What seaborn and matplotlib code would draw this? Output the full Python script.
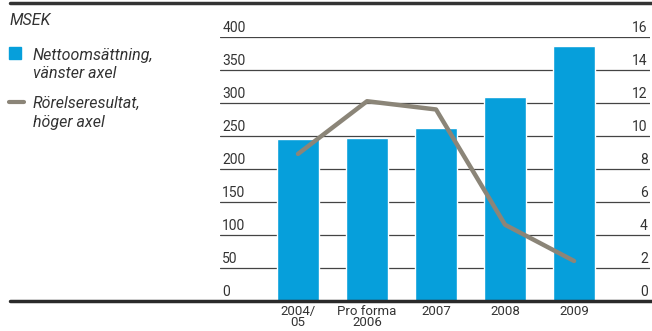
import matplotlib
matplotlib.use("Agg")
import matplotlib.pyplot as plt
import matplotlib.transforms as mtransforms
from matplotlib.lines import Line2D
from matplotlib.patches import Rectangle
import seaborn as sns
import pandas as pd
import numpy as np

categories = ["2004/\n05", "Pro forma\n2006", "2007", "2008", "2009"]
nettoomsattning = [245, 247, 262, 309, 386]
rorelseresultat = [8.9, 12.1, 11.6, 4.6, 2.4]
left_ticks = [0, 50, 100, 150, 200, 250, 300, 350, 400]
right_ticks = [0, 2, 4, 6, 8, 10, 12, 14, 16]

BLUE = "#069fdb"
GREY = "#8b8578"
FONT = ["Roboto", "DejaVu Sans"]

sns.set_theme(style="white")
plt.rcParams["font.family"] = FONT

df = pd.DataFrame({"cat": categories, "sales": nettoomsattning, "ebit": rorelseresultat})

W, H = 652, 331
fig = plt.figure(figsize=(W / 100, H / 100), dpi=100)
ax = fig.add_axes([220 / W, 1 - 300.5 / H, (650 - 220) / W, (300.5 - 37) / H])

sns.barplot(data=df, x="cat", y="sales", color=BLUE, saturation=1, width=0.61, ax=ax, zorder=2)
ax.set_ylim(0, 400)

ax2 = ax.twinx()
sns.lineplot(data=df, x="cat", y="ebit", color=GREY, linewidth=3.2, ax=ax2,
             solid_capstyle="round", zorder=3)
ax2.set_ylim(0, 16)
ax.set_zorder(1)
ax2.set_zorder(2)
ax2.patch.set_visible(False)
ax.set_xlim(-1.13, 5.10)

for a in (ax, ax2):
    for s in a.spines.values():
        s.set_visible(False)
    a.set_ylabel("")
    a.set_xlabel("")
    a.set_yticks([])
    a.tick_params(length=0)

# gridlines
for v in left_ticks[1:]:
    ax.axhline(v, color="#444444", lw=0.9, zorder=0)

# y tick labels sitting on gridlines
tl = mtransforms.blended_transform_factory(ax.transAxes, ax.transData)
off = mtransforms.offset_copy(tl, fig=fig, x=0, y=2, units="dots")
for v in left_ticks:
    ax.text(0.005, v, str(v), transform=off, ha="left", va="bottom", fontsize=10, color="#333333")
tr = mtransforms.blended_transform_factory(ax2.transAxes, ax2.transData)
offr = mtransforms.offset_copy(tr, fig=fig, x=0, y=2, units="dots")
for v in right_ticks:
    ax2.text(0.995, v, str(v), transform=offr, ha="right", va="bottom", fontsize=10, color="#333333")

ax.set_xticks(range(len(categories)))
ax.set_xticklabels(categories, fontsize=9.5, color="#333333", linespacing=0.82)
ax.tick_params(axis="x", pad=3, labelbottom=True)
ax2.tick_params(axis="x", labelbottom=False, labeltop=False)

# frame lines
fig.add_artist(Line2D([10 / W, 1], [1 - 3 / H, 1 - 3 / H], color="#333333", lw=2.5, transform=fig.transFigure))
fig.add_artist(Line2D([10 / W, 1], [1 - 300.5 / H, 1 - 300.5 / H], color="#2a2a2a", lw=2.5, transform=fig.transFigure, zorder=5))

# legend
fig.text(10 / W, 1 - 25 / H, "MSEK", fontsize=11.5, style="italic", color="#333333", va="baseline")
fig.add_artist(Rectangle((9 / W, 1 - 59 / H), 12 / W, 12 / H, color=BLUE, transform=fig.transFigure))
fig.text(33 / W, 1 - 60 / H, "Nettoomsättning,", fontsize=11.5, style="italic", color="#333333", va="baseline")
fig.text(33 / W, 1 - 78 / H, "vänster axel", fontsize=11.5, style="italic", color="#333333", va="baseline")
fig.add_artist(Line2D([9 / W, 24 / W], [1 - 101.7 / H, 1 - 101.7 / H], color=GREY, lw=3, solid_capstyle="round", transform=fig.transFigure))
fig.text(33 / W, 1 - 108 / H, "Rörelseresultat,", fontsize=11.5, style="italic", color="#333333", va="baseline")
fig.text(33 / W, 1 - 127 / H, "höger axel", fontsize=11.5, style="italic", color="#333333", va="baseline")

fig.savefig("out.png", dpi=100)
